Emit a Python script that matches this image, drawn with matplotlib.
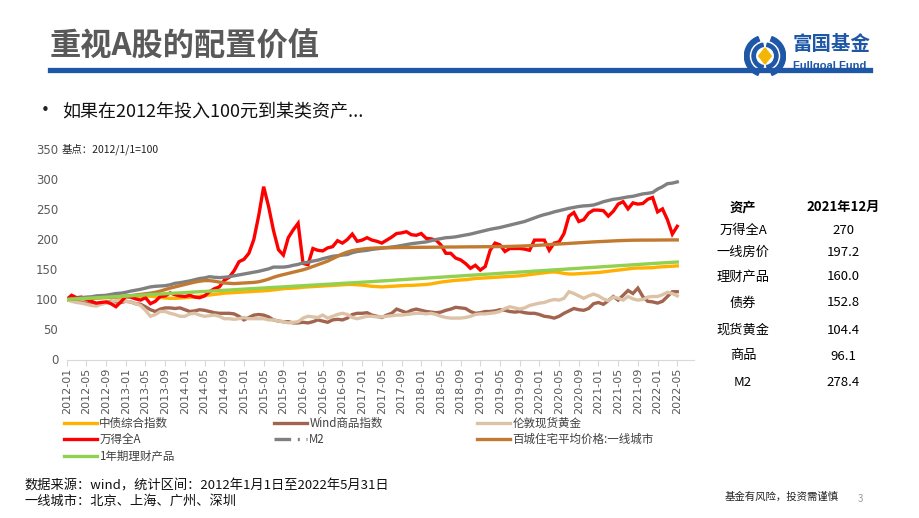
import matplotlib
matplotlib.use("Agg")
import matplotlib.pyplot as plt
from matplotlib.lines import Line2D
from matplotlib.patches import Polygon, Wedge
import numpy as np
import pandas as pd

plt.rcParams["font.family"] = ["Noto Sans CJK SC", "DejaVu Sans"]

# monthly values, 2012-01 .. 2022-05, base 2012/1/1 = 100
months = pd.date_range("2012-01-01", "2022-05-01", freq="MS")

bond = [100, 100.5, 101, 101.5, 102, 102.5, 102.8, 103, 103, 103.3, 103.6, 104, 104.5, 105, 105.3, 105.5,
        106, 105.5, 104.5, 103.5, 102.5, 102, 102, 102.5, 103, 103.5, 104.5, 105.5, 106.5, 107.5, 108.5,
        109.5, 110.5, 111, 111.5, 112, 112.5, 113, 113.5, 114, 114.5, 115, 116, 117, 118, 118.5, 119, 119.5,
        120.5, 121, 121.5, 122, 122.5, 123, 123.5, 124, 124.5, 125, 125, 124.5, 124, 123, 122, 121.5, 121,
        121.5, 122, 122.5, 123, 123.5, 123.5, 124, 124.5, 125, 126, 127.5, 129, 130, 131, 132, 132.5, 133,
        134, 135, 135.5, 136, 136.5, 137, 137.5, 138, 138.5, 139, 139.5, 140.5, 141.5, 142.5, 143.5, 144.5,
        145.5, 146, 145, 143.5, 142.5, 142.5, 143, 143.5, 144, 144.5, 145, 146, 147, 148, 149, 150, 151, 152,
        152.5, 152.5, 152.8, 153, 154, 154.5, 155, 155.5, 156]

commodity = [100, 98, 96, 95, 94, 92, 91, 93, 95, 97, 96, 95, 97, 96, 93, 92, 88, 83, 80, 84, 86, 86, 85, 86,
             83, 80, 81, 83, 82, 80, 78, 77, 77, 77, 76, 72, 66, 70, 74, 75, 74, 71, 66, 64, 63, 63, 61, 61,
             62, 61, 63, 66, 64, 62, 66, 67, 66, 69, 75, 77, 77, 78, 74, 72, 70, 74, 77, 84, 81, 78, 82, 84,
             82, 80, 79, 78, 79, 82, 84, 87, 86, 85, 80, 77, 78, 80, 80, 81, 83, 82, 80, 79, 80, 78, 77, 77,
             75, 72, 71, 69, 72, 77, 81, 85, 83, 82, 85, 93, 95, 92, 98, 105, 99, 107, 115, 110, 119, 105, 97,
             96, 94, 97, 105, 113, 113]

gold = [100, 97, 95, 94, 92, 90, 89, 92, 94, 96, 98, 98, 97, 96, 93, 90, 82, 72, 75, 80, 80, 77, 75, 72,
        72, 76, 77, 74, 72, 73, 74, 72, 68, 68, 67, 68, 70, 68, 68, 68, 68, 66, 66, 64, 63, 61, 62, 63, 69,
        72, 71, 70, 74, 69, 72, 75, 77, 75, 70, 68, 70, 72, 72, 71, 71, 72, 73, 74, 74, 75, 76, 77, 77, 76,
        77, 75, 72, 70, 69, 69, 69, 70, 72, 75, 76, 76, 77, 78, 80, 85, 88, 86, 84, 86, 90, 92, 94, 95, 98,
        100, 99, 102, 113, 110, 106, 102, 106, 109, 106, 101, 98, 104, 102, 99, 105, 101, 99, 100, 104, 105,
        105, 108, 112, 110, 106]

stock = [100, 107, 103, 104, 100, 97, 94, 95, 96, 93, 88, 96, 105, 104, 101, 99, 103, 93, 97, 105, 106, 111,
         108, 106, 105, 107, 104, 103, 106, 113, 118, 121, 132, 137, 148, 163, 167, 177, 200, 240, 288, 255,
         215, 183, 174, 203, 216, 227, 160, 158, 185, 182, 181, 186, 188, 198, 194, 200, 209, 197, 199, 203,
         199, 197, 194, 199, 204, 210, 211, 213, 208, 207, 210, 202, 201, 199, 191, 177, 177, 169, 166, 160,
         152, 157, 149, 155, 182, 194, 191, 180, 185, 185, 185, 184, 182, 199, 199, 199, 182, 194, 196, 210,
         239, 245, 230, 233, 244, 249, 249, 248, 239, 247, 259, 263, 251, 261, 259, 260, 267, 270, 246, 251,
         233, 209, 222]

m2 = [100, 101, 102, 103, 104, 104.5, 106, 106.5, 107, 108.5, 110, 110.5, 112, 114, 115.5, 117, 119, 121,
      122, 122.5, 123, 124.5, 127, 128, 129.5, 131, 133, 135, 136, 138, 137, 136.5, 137, 138, 139.5, 141,
      142.5, 144, 145.5, 147, 149, 151, 154, 154, 154, 155, 157, 158.5, 161, 162, 164, 165.5, 168, 170, 172,
      173, 174, 175, 178, 180, 181, 182, 183.5, 184.5, 185.5, 186.5, 187.5, 188.5, 190, 191.5, 193, 194, 195,
      196, 198, 200, 201.5, 203, 203.5, 204.5, 206, 207.5, 209, 211, 213, 215, 217, 218.5, 220, 222, 224,
      226, 228, 230, 233, 236, 239, 241.5, 243.5, 246, 248, 250, 252, 253.5, 255, 256, 256.5, 257.5, 260,
      263, 265, 267, 268, 269.5, 271, 272, 274, 276, 277, 278.4, 284, 288, 293, 294, 296]

house = [100, 100.3, 100.6, 101, 101.5, 102, 102.5, 103, 103.5, 104, 104.5, 105, 105.5, 106.5, 107.5, 108.5,
         109.5, 110.5, 112, 114, 116.5, 119, 121, 123, 125, 127, 129, 130.5, 131.5, 131.5, 130.5, 129, 127.5,
         127, 126.5, 127, 127.5, 128, 128.5, 129.5, 131.5, 134, 137, 139.5, 141.5, 143.5, 145.5, 147.5, 149.5,
         152, 155, 158, 161, 164, 168, 172, 176, 179, 181.5, 183, 184, 185, 185.5, 186, 186, 186.2, 186.3,
         186.5, 186.6, 186.7, 186.8, 186.9, 187, 187, 187.1, 187.2, 187.3, 187.4, 187.5, 187.5, 187.6, 187.7,
         187.8, 187.8, 187.9, 188, 188, 188.1, 188.2, 188.3, 188.5, 188.7, 189, 189.3, 189.6, 190, 190.5,
         191, 191.5, 192, 192.5, 193, 193.5, 194, 194.5, 195, 195.5, 196, 196.4, 196.8, 197.2, 197.6, 198,
         198.3, 198.6, 198.8, 198.9, 199, 199, 199, 199.1, 199.2, 199.2, 199.3, 199.3]

wealth = [100, 100.5, 101, 101.4, 101.9, 102.4, 102.9, 103.4, 103.8, 104.3, 104.8, 105.3, 105.8, 106.2,
          106.7, 107.2, 107.7, 108.2, 108.6, 109.1, 109.6, 110.1, 110.6, 111, 111.5, 112, 112.5, 113, 113.4,
          113.9, 114.4, 114.9, 115.4, 115.8, 116.3, 116.8, 117.3, 117.8, 118.2, 118.7, 119.2, 119.7, 120.2,
          120.6, 121.1, 121.6, 122.1, 122.6, 123, 123.5, 124, 124.5, 125, 125.4, 125.9, 126.4, 126.9, 127.4,
          127.8, 128.3, 128.8, 129.3, 129.8, 130.4, 130.9, 131.4, 131.9, 132.5, 133, 133.5, 134.1, 134.6,
          135.1, 135.6, 136.2, 136.7, 137.2, 137.8, 138.3, 138.8, 139.3, 139.9, 140.4, 140.9, 141.5, 142,
          142.5, 143, 143.6, 144.1, 144.6, 145.2, 145.7, 146.2, 146.7, 147.3, 147.8, 148.3, 148.9, 149.4,
          149.9, 150.4, 151, 151.5, 152, 152.6, 153.1, 153.6, 154.1, 154.7, 155.2, 155.7, 156.3, 156.8,
          157.3, 157.8, 158.4, 158.9, 159.4, 160, 160.5, 161, 161.5, 162, 162.4]

# legend / drawing order as in the source chart
series = [
    ("中债综合指数", bond, "#FFB000"),
    ("Wind商品指数", commodity, "#A3644F"),
    ("伦敦现货黄金", gold, "#DCC3A8"),
    ("万得全A", stock, "#FF0000"),
    ("M2", m2, "#808080"),
    ("百城住宅平均价格:一线城市", house, "#C27A30"),
    ("1年期理财产品", wealth, "#92D050"),
]

table_assets = ["万得全A", "一线房价", "理财产品", "债券", "现货黄金", "商品", "M2"]
table_values = ["270", "197.2", "160.0", "152.8", "104.4", "96.1", "278.4"]

TEXT_GRAY = "#595959"
BLUE = "#1F57A7"

fig = plt.figure(figsize=(9.2, 5.18), dpi=100)
W, H = 920, 518


def fx(px):
    return px / W


def fy(py):
    return 1 - py / H


# header
fig.text(fx(50), fy(47), "重视A股的配置价值", fontsize=22.5, fontweight="bold", color=TEXT_GRAY,
         va="center", ha="left")
fig.add_artist(Line2D([fx(50), fx(870)], [fy(70), fy(70)], color=BLUE, lw=3.8))

# logo
logo = fig.add_axes([fx(744), fy(77), fx(42), 42 / H])
logo.set_xlim(-1, 1)
logo.set_ylim(-1, 1)
logo.set_aspect("equal")
logo.axis("off")
logo.add_patch(Wedge((0, 0), 0.98, 110, 250, width=0.22, color=BLUE))
logo.add_patch(Wedge((0, 0), 0.98, -70, 70, width=0.22, color=BLUE))
logo.add_patch(Wedge((0, 0), 0.62, 100, 260, width=0.16, color=BLUE))
logo.add_patch(Wedge((0, 0), 0.62, -80, 80, width=0.16, color=BLUE))
logo.add_patch(Polygon([(0, 0.38), (0.3, 0), (0, -0.38), (-0.3, 0)], closed=True, color="#F2B705"))
fig.text(fx(793), fy(44), "富国基金", fontsize=14, fontweight="bold", color=BLUE, va="center")
fig.text(fx(793), fy(66), "Fullgoal Fund", fontsize=8, fontweight="bold", color=BLUE, va="center",
         family=["Liberation Sans"])

fig.text(fx(35), fy(111), "•", fontsize=15, color="#222222", va="center")
fig.text(fx(62), fy(112), "如果在2012年投入100元到某类资产...", fontsize=13, color="#111111", va="center")

# chart
ax = fig.add_axes([fx(66.7), fy(359.5), fx(694 - 66.7), (359.5 - 149.5) / H])
x = np.arange(len(months))
handles = {}
for name, vals, color in series:
    (ln,) = ax.plot(x, vals, color=color, lw=2.4, solid_joinstyle="miter", label=name)
    handles[name] = ln

ax.set_xlim(0, 127.4)
ax.set_ylim(0, 350)
ax.set_yticks(np.arange(0, 351, 50))
ax.set_xticks(x[::4])
ax.set_xticklabels([m.strftime("%Y-%m") for m in months[::4]], rotation=90)
ax.tick_params(axis="y", length=0, labelsize=8.5, labelcolor=TEXT_GRAY, pad=6)
ax.tick_params(axis="x", length=4, color="#D9D9D9", labelsize=8, labelcolor=TEXT_GRAY, pad=2)
for s in ("left", "right", "top"):
    ax.spines[s].set_visible(False)
ax.spines["bottom"].set_color("#D9D9D9")
for lab in ax.get_yticklabels() + ax.get_xticklabels():
    lab.set_family(["DejaVu Sans"])

fig.text(fx(62), fy(149), "基点：2012/1/1=100", fontsize=7.5, color="#222222", va="center")

# legend: three columns placed at the source positions
m2_handle = Line2D([], [], color="#808080", lw=2.4, ls=(0, (5, 2, 0.6, 2)))
columns = [
    (66, ["中债综合指数", "万得全A", "1年期理财产品"]),
    (276, ["Wind商品指数", "M2"]),
    (479, ["伦敦现货黄金", "百城住宅平均价格:一线城市"]),
]
for left, names in columns:
    hs = [m2_handle if n == "M2" else handles[n] for n in names]
    leg = fig.legend(hs, names, loc="upper left", bbox_to_anchor=(fx(left - 7), fy(412)),
                     frameon=False, fontsize=8.3, handlelength=2.9, handletextpad=0.2,
                     labelspacing=0.32, borderaxespad=0, borderpad=0.4)
    for t in leg.get_texts():
        t.set_color("#404040")

# side table
rows_y = [230, 252, 277, 303, 330, 356, 382]
fig.text(fx(743), fy(207), "资产", fontsize=9.5, fontweight="bold", ha="center", va="center")
fig.text(fx(843), fy(207), "2021年12月", fontsize=9.5, fontweight="bold", ha="center", va="center")
for yy, asset, val in zip(rows_y, table_assets, table_values):
    fig.text(fx(743), fy(yy), asset, fontsize=9.5, ha="center", va="center")
    fig.text(fx(843), fy(yy), val, fontsize=9.5, ha="center", va="center")

# footer
fig.text(fx(24), fy(486), "数据来源：wind，统计区间：2012年1月1日至2022年5月31日", fontsize=9.5,
         color="#111111", va="center")
fig.text(fx(24), fy(501), "一线城市：北京、上海、广州、深圳", fontsize=9.5, color="#111111", va="center")
fig.text(fx(725), fy(497), "基金有风险，投资需谨慎", fontsize=7.5, color="#222222", va="center")
fig.text(fx(858), fy(499), "3", fontsize=7, color="#999999", va="center")

fig.savefig("out.png", dpi=100)
